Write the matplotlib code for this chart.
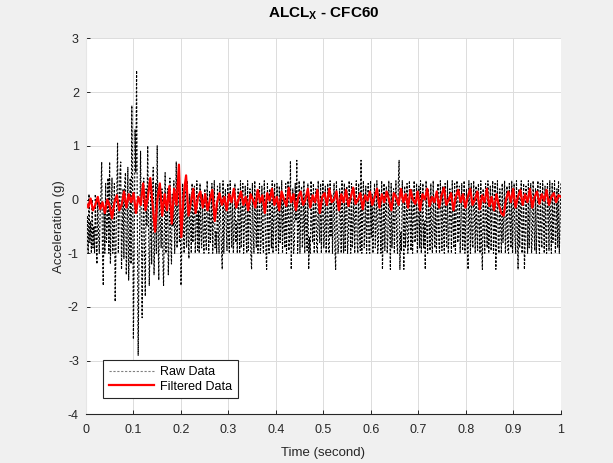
import numpy as np
import matplotlib
matplotlib.use("Agg")
from matplotlib import pyplot as plt

plt.rcParams["font.family"] = ["Liberation Sans", "DejaVu Sans"]
plt.rcParams["mathtext.fontset"] = "custom"
plt.rcParams["mathtext.bf"] = "Liberation Sans:bold"
plt.rcParams["mathtext.rm"] = "Liberation Sans"
plt.rcParams["axes.unicode_minus"] = False

# raw accelerometer samples (g), evenly spaced over 0..1 s
raw_g = [
    0.05, -0.95, -0.3, -1.0, 0.1, -0.8, -0.4, -1.0, 0.0, -0.9, -0.5, -1.0, 0.1, -0.7, -1.2,
    0.05, -0.6, -1.0, -0.3, 0.1, 0.7, -1.0, -1.6, -0.2, -1.0, 0.3, -0.8, -0.5, 0.4, -1.0,
    0.7, -1.2, -0.3, 0.4, -1.0, -0.6, 0.3, -1.9, -0.9, 0.2, 1.05, -1.0, -0.4, 0.5, 0.7,
    -1.3, -0.6, 0.2, -1.1, 0.3, 0.5, -1.4, -0.8, 0.6, -1.5, -0.9, 0.4, -1.2, 1.75, 0.2,
    -2.6, -1.0, 1.3, 0.5, 2.4, -0.5, -2.9, -1.2, -0.5, 0.9, -0.4, -2.2, -0.6, 0.4, -1.0,
    -1.8, 0.2, -0.5, 1.0, -0.3, -1.6, -0.8, 0.3, -1.2, 0.0, 0.6, -1.4, -0.7, 0.3, -1.0,
    1.0, -0.5, -1.5, 0.3, -0.4, -0.9, 0.2, -1.0, -1.6, -0.6, 0.5, -1.0, -0.3, 0.2, -1.4,
    -0.7, 0.4, -0.8, -1.2, 0.1, -0.5, 0.35, -1.0, -0.4, 0.7, -0.9, 0.0, 0.35, -0.8, -0.3,
    -1.6, -0.9, 0.3, -0.6, -1.0, 0.2, -0.4, -0.9, 0.35, -0.7, -1.1, 0.1, -0.5, -1.0, 0.3,
    -0.8, -0.3, 0.25, -1.0, -0.5, 0.35, -0.95, -0.2, -1.0, 0.3, -0.6, -0.9, 0.1, -0.7, -1.0,
    0.2, -0.7, -0.95, 0.35, -0.3, -1.0, 0.15, -0.8, -0.5, 0.3, -1.0, -0.2, 0.35, -0.9, -0.6,
    -1.0, 0.25, -0.6, -1.0, 0.3, -0.4, -0.9, -1.3, 0.35, -1.0, -0.3, 0.2, -0.5, -0.95, 0.3,
    -0.7, -1.0, 0.35, -0.3, -0.9, 0.1, -1.0, -0.6, 0.3, -0.8, -0.4, -1.0, 0.2, -0.4, -1.0,
    0.35, -0.9, -0.2, 0.3, -1.0, -0.5, 0.25, -0.7, -1.0, 0.35, -0.95, -0.3, 0.2, -1.0, -1.3,
    0.3, -0.6, -1.0, 0.35, -0.4, -0.9, 0.15, -1.0, -0.5, 0.3, -1.0, -0.8, 0.25, -0.8, -1.0,
    0.35, -0.2, -0.95, -1.3, 0.3, -0.6, -1.0, 0.2, -0.4, -0.9, 0.35, -1.0, -0.3, 0.3, -0.7,
    -0.95, 0.3, -0.3, -1.0, 0.25, -0.8, -0.5, 0.35, -1.0, 0.1, -0.6, -0.9, 0.3, -1.0, -0.3,
    0.35, -0.95, -0.7, 0.72, -1.3, -0.4, 0.2, -1.0, -0.8, 0.3, -0.4, 0.73, -1.0, -0.6, 0.35,
    -1.0, -0.2, 0.25, -0.9, -0.6, 0.35, -1.0, 0.1, -0.5, -0.95, 0.3, -1.3, -0.7, -1.0, 0.35,
    -0.5, -0.8, 0.3, -1.0, -0.3, 0.2, -0.9, -1.0, 0.35, -0.5, -0.8, 0.3, -1.0, -0.2, 0.35,
    -0.9, -0.6, 0.25, -1.0, -0.4, 0.3, -0.95, -1.0, 0.35, -0.7, 0.1, -1.0, -0.3, 0.3, -0.9,
    -1.3, 0.35, -0.5, -1.0, -0.8, 0.2, -0.3, -1.0, 0.35, -0.6, -1.0, 0.3, -0.95, -0.2, 0.25,
    -1.0, -0.7, 0.35, -0.4, -1.0, 0.3, -0.9, -0.5, 0.2, -1.0, -0.3, 0.35, -0.8, -1.0, 0.3,
    -0.6, -0.95, 0.73, -1.0, -0.2, 0.35, -0.9, -0.6, 0.25, -1.0, -0.4, 0.3, -0.95, -1.0, 0.35,
    -0.7, 0.1, -1.0, -0.3, 0.3, -0.9, -0.5, 0.35, -1.0, -0.8, 0.2, -0.3, -1.0, 0.35, -1.3,
    -0.6, 0.3, -0.95, -0.2, 0.25, -1.0, -0.7, 0.35, -0.4, -1.3, 0.3, -0.9, -0.5, 0.2, -1.0,
    -0.3, 0.35, -0.8, -1.0, 0.3, 0.73, -1.3, -0.6, -0.95, 0.35, -0.2, -1.3, 0.25, -0.9, -0.5,
    0.3, -1.0, -0.7, 0.35, -0.4, -0.95, 0.2, -1.0, -0.3, 0.35, -0.8, -0.6, 0.3, -1.0, -0.4,
    0.25, -0.9, 0.35, -1.0, -0.5, 0.3, -0.9, -0.4, -1.3, 0.35, -0.6, -1.0, 0.2, -0.3, -0.95,
    0.3, -0.7, -1.0, 0.35, -0.5, -0.9, 0.1, -1.0, -0.4, 0.3, -0.8, -1.0, 0.35, -0.2, -0.95,
    0.25, -0.6, -1.0, 0.3, -0.4, -0.9, 0.35, -1.0, -0.7, 0.2, -0.3, -1.0, 0.35, -0.5, -0.9,
    0.3, -1.0, -0.2, 0.35, -0.8, -0.6, 0.25, -1.0, -0.4, 0.3, -0.95, -0.7, 0.35, -1.0, -0.3,
    0.2, -0.9, -1.3, 0.35, -0.5, -1.0, 0.3, -0.7, -0.9, 0.35, -0.2, -1.0, 0.25, -0.6, -0.95,
    0.3, -0.4, -1.0, 0.35, -0.8, -1.3, 0.2, -0.5, -1.0, 0.3, -0.3, -0.9, 0.35, -1.0, -0.6,
    0.25, -0.95, -0.2, 0.35, -1.0, -0.7, 0.3, -1.3, -0.4, 0.35, -0.9, -1.0, 0.2, -0.5, -1.0,
    0.3, -0.8, -0.3, 0.35, -1.0, -0.6, 0.25, -0.95, -1.0, 0.3, -0.4, -0.9, 0.35, -1.0, -0.2,
    0.3, -0.7, -1.0, 0.35, -0.5, -1.3, 0.2, -0.9, -0.3, 0.35, -1.0, -0.6, 0.3, -1.3, -0.8,
    0.25, -0.4, -1.0, 0.35, -0.9, -0.2, 0.3, -1.0, -0.7, 0.35, -0.5, -0.95, 0.2, -1.0, -0.3,
    0.35, -0.8, -1.0, 0.3, -0.6, -0.9, 0.35, -0.4, -1.0, 0.25, -0.7, -1.0, 0.3, -0.2, -0.95,
    0.35, -0.5, -1.0, 0.3, -0.8, -0.3, 0.35, -1.0, -0.6, 0.2, -0.9, 0.35, -1.0, -0.4, 0.3,
]

# CFC60 filtered signal (g)
filt_g = [
    -0.05, -0.15, 0.02, -0.2, -0.1, 0.05, -0.18, -0.05, -0.25, 0.0, -0.12, -0.35, -0.05, 0.08, -0.2, -0.1, 0.15, -0.15, 0.1, -0.05,
    0.12, -0.25, 0.05, -0.1, 0.3, -0.2, 0.05, 0.4, -0.1, -0.6, 0.0, 0.3, -0.3, 0.1, -0.2, 0.25, -0.45, 0.2, -0.1, 0.65,
    -0.7, 0.1, 0.45, -0.3, -0.05, 0.2, -0.25, 0.05, 0.15, -0.15, 0.1, -0.2, 0.0, 0.18, -0.4, -0.05, 0.12, -0.1, 0.05, -0.2,
    0.1, -0.05, 0.2, -0.15, 0.0, 0.15, -0.1, 0.05, -0.2, 0.1, 0.0, -0.15, 0.18, -0.05, 0.08, -0.25, 0.12, -0.02, 0.2, -0.1,
    0.05, -0.2, 0.15, 0.0, -0.12, 0.22, -0.05, 0.1, -0.2, 0.05, 0.15, -0.1, 0.0, 0.2, -0.15, 0.08, -0.05, 0.18, -0.25, 0.05,
    0.12, -0.1, 0.2, -0.05, 0.0, 0.15, -0.2, 0.1, -0.05, 0.18, -0.12, 0.05, 0.22, -0.08, 0.0, 0.12, -0.18, 0.08, -0.02, 0.15,
    -0.1, 0.05, 0.2, -0.15, 0.1, -0.05, 0.15, 0.0, -0.2, 0.12, 0.05, -0.1, 0.2, -0.05, 0.1, -0.15, 0.18, 0.0, -0.08, 0.15,
    -0.2, 0.1, 0.0, 0.2, -0.12, 0.05, -0.05, 0.15, -0.15, 0.08, 0.22, -0.1, 0.0, 0.12, -0.2, 0.05, 0.18, -0.05, 0.1, -0.15,
    0.05, 0.2, -0.1, 0.0, 0.15, -0.18, 0.08, -0.05, 0.2, -0.12, 0.05, -0.2, 0.1, -0.1, -0.25, -0.3, 0.0, 0.15, -0.05, 0.2,
    -0.15, 0.05, 0.18, -0.1, 0.1, -0.05, 0.2, -0.15, 0.05, 0.15, -0.08, 0.1, -0.02, 0.18, -0.1, 0.05, 0.12, -0.05, 0.08, 0.05,
]

t_raw = np.linspace(0, 1, len(raw_g))
t_filt = np.linspace(0, 1, len(filt_g))

x_ticks = [0, 0.1, 0.2, 0.3, 0.4, 0.5, 0.6, 0.7, 0.8, 0.9, 1]
x_labels = ["0", "0.1", "0.2", "0.3", "0.4", "0.5", "0.6", "0.7", "0.8", "0.9", "1"]
y_ticks = [-4, -3, -2, -1, 0, 1, 2, 3]

fig = plt.figure(figsize=(6.13, 4.63), dpi=100, facecolor="#f0f0f0")
ax = fig.add_axes([0.140, 0.105, 0.775, 0.812])
ax.set_facecolor("white")

ax.plot(t_raw, raw_g, color="black", lw=0.8, linestyle=(0, (2, 1.5)), label="Raw Data")
ax.plot(t_filt, filt_g, color="#ff0000", lw=1.6, label="Filtered Data")

ax.set_xlim(0, 1)
ax.set_ylim(-4, 3)
ax.set_xticks(x_ticks)
ax.set_xticklabels(x_labels)
ax.set_yticks(y_ticks)
ax.grid(True, color="#dcdcdc", lw=0.7)
ax.set_axisbelow(True)

for s in ["top", "right"]:
    ax.spines[s].set_visible(False)
ax.spines["left"].set_color("#e6e6e6")
ax.spines["bottom"].set_color("#262626")
ax.spines["bottom"].set_linewidth(0.8)
ax.tick_params(direction="in", length=3, width=0.7, colors="#262626", labelsize=9)
ax.tick_params(axis="x", pad=7)
ax.tick_params(axis="y", pad=5)

ax.set_title(r"ALCL$_\mathbf{X}$ - CFC60", fontsize=11, fontweight="bold", color="black", pad=15)
ax.set_xlabel("Time (second)", fontsize=9.5, color="#262626", labelpad=8)
ax.set_ylabel("Acceleration (g)", fontsize=9.5, color="#262626", labelpad=2)

leg = ax.legend(loc="lower left", bbox_to_anchor=(0.036, 0.043), borderaxespad=0,
                fontsize=9, fancybox=False, framealpha=1, edgecolor="#262626",
                handlelength=3.6, handletextpad=0.5, borderpad=0.45, labelspacing=0.2)
leg.get_frame().set_linewidth(0.8)
leg.get_lines()[0].set_color("#808080")
leg.get_lines()[0].set_linewidth(0.8)

fig.savefig("out.png", dpi=100, facecolor=fig.get_facecolor())
